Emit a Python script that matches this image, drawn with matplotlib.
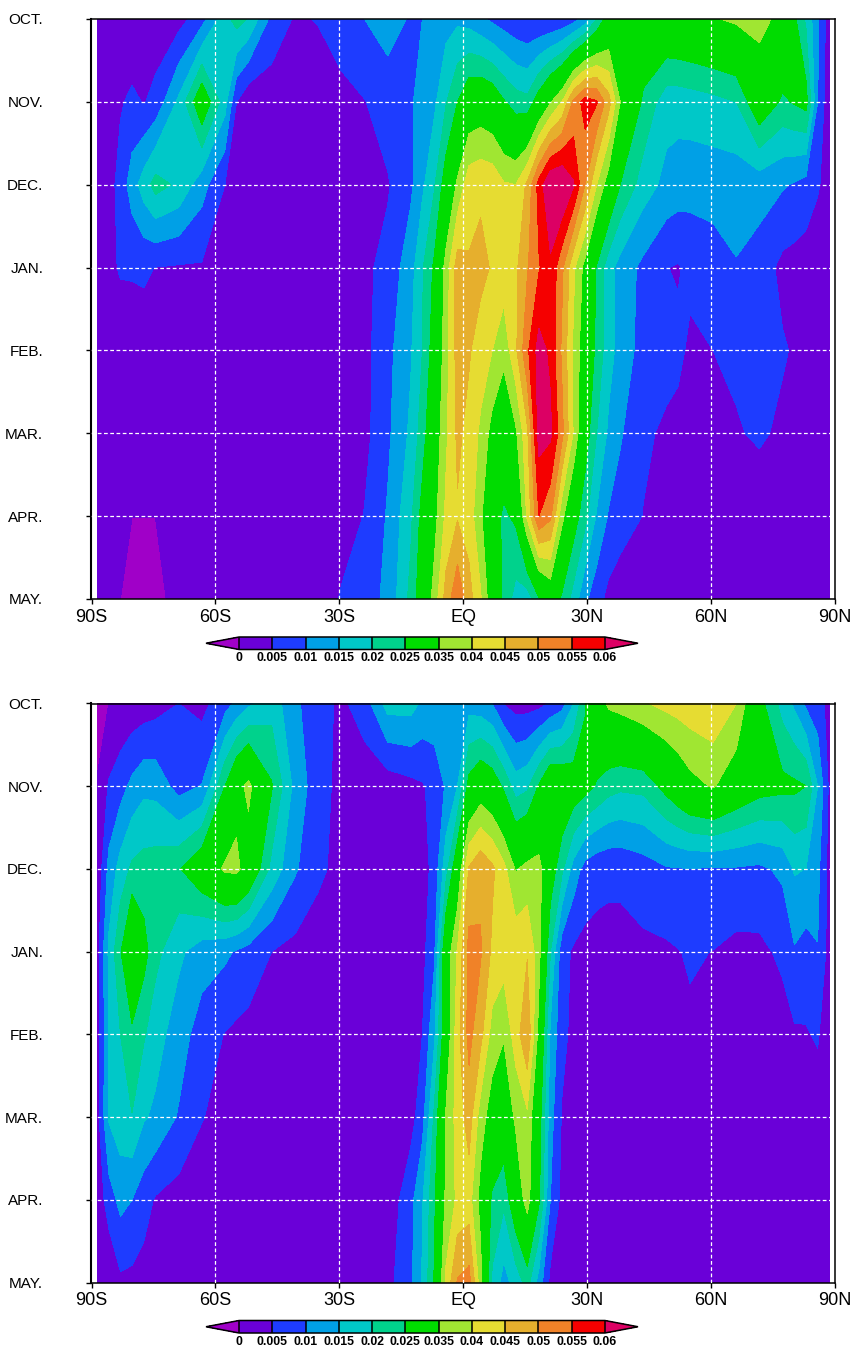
import numpy as np
import matplotlib
matplotlib.use("Agg")
import matplotlib.pyplot as plt

lats = [-88.6, -85.8, -83.0, -80.2, -77.3, -74.5, -68.9, -63.3, -57.7, -54.9, -52.0, -46.4, -40.8, -35.2, -29.5, -23.9, -18.3, -12.7,
        -9.9, -7.0, -4.2, -1.4, 1.4, 4.2, 7.0, 9.8, 12.7, 15.5, 18.3, 21.1, 23.9, 26.7, 29.5, 32.3, 35.2,
        38.0, 43.6, 49.2, 52.0, 54.9, 60.5, 66.1, 71.7, 77.3, 80.2, 83.0, 85.8, 88.6]
months = ["OCT.", "NOV.", "DEC.", "JAN.", "FEB.", "MAR.", "APR.", "MAY."]
lon_ticks = [-90, -60, -30, 0, 30, 60, 90]
lon_labels = ["90S", "60S", "30S", "EQ", "30N", "60N", "90N"]
levels = [0, 0.005, 0.01, 0.015, 0.02, 0.025, 0.035, 0.04, 0.045, 0.05, 0.055, 0.06]
level_labels = ["0", "0.005", "0.01", "0.015", "0.02", "0.025", "0.035", "0.04", "0.045", "0.05", "0.055", "0.06"]
colors = ["#A000C8", "#6A00D8", "#1E3CFF", "#00A0E6", "#00C8C8", "#00D28C", "#00DC00",
          "#A0E632", "#E6DC32", "#E6AF2D", "#F08228", "#F50000", "#DC0064"]

# values in units of 0.001, one list per month
top_oct = [1, 1, 1, 1, 1.5, 2, 3, 8, 18, 22, 19.5, 8.5, 4.5, 5.2, 7.5, 10, 12, 9.5,
           10, 11, 13, 14, 13, 11, 9, 7.5, 6, 5, 4.8, 5, 6, 8, 12, 20, 28,
           30, 30, 32, 32.5, 33, 34.5, 36, 37, 33, 26, 19, 11, 2]
top_nov = [1, 3, 4.5, 6, 4.7, 6.5, 16, 30, 17, 5, 1, 2, 2, 2.5, 3.5, 4.8, 7.5, 9.7,
           11, 14, 19.6, 25, 30, 31, 29.5, 25.5, 22.4, 21.5, 28, 34.5, 40, 51, 57.5, 55.5, 47,
           35, 24, 17, 17, 17.5, 18.5, 20, 30, 24, 25.5, 27, 10, 1]
top_dec = [2, 3, 6.8, 12.5, 17.5, 22, 19, 12, 5, 4, 3.5, 2, 2, 2, 2.5, 3.5, 4.5, 9,
           14, 19.5, 28, 36, 43, 44, 43.5, 40.5, 40, 46, 57, 65, 66, 60.5, 50, 40, 32,
           25, 17.5, 13.5, 12.5, 12, 12, 12, 12, 10.5, 9.5, 8, 5.5, 3]
top_jan = [2, 4, 5.4, 5.4, 5.7, 4.9, 4.5, 4.5, 4, 3.8, 3.5, 3, 2.5, 2.5, 3, 4, 6.5, 13,
           19.5, 26, 37, 47.5, 45.5, 46.5, 44.5, 43, 44, 49.5, 54.5, 59, 51, 41, 33, 24.5, 17,
           13, 8.7, 5.1, 4.6, 6, 7.7, 9.7, 7.8, 3.6, 3, 2.5, 2, 2]
top_feb = [1.5, 2, 2.5, 3, 2.8, 3, 3, 3, 3, 3, 3, 2.5, 2.5, 2.5, 3, 3.5, 8.5, 14.5,
           20, 28, 38, 47, 45.5, 42.5, 40, 36.5, 44, 54, 62, 59, 49, 39, 31, 23.5, 17,
           13, 8, 7, 6, 4.2, 5, 6, 6.5, 5.5, 4.5, 3.5, 2.5, 2]
top_mar = [1.5, 2, 2, 2.5, 2.8, 3, 3, 3, 2.5, 2.5, 2.5, 2.5, 2, 2, 2.5, 3.5, 9, 16,
           22.5, 31, 39, 46, 43.5, 39, 33, 30, 34, 44, 62, 61, 51.5, 39.5, 28, 20, 14,
           10.5, 6, 4, 3.7, 3.5, 3.7, 4.5, 5.8, 4, 3.5, 3, 2.5, 2]
top_apr = [1, 1, 0.5, 0.01, 0.01, 0.01, 1, 1.5, 2, 2, 2, 2, 2, 2, 2.5, 5.2, 10.5, 19,
           27, 33, 41, 44.5, 42.5, 36, 28, 24, 26, 41, 55, 51, 36.5, 28, 21.5, 14.5, 9.5,
           8, 4.8, 2, 1.8, 1.5, 1.5, 1.5, 1.5, 1.5, 1.5, 1.5, 1.5, 1.5]
top_may = [1, 0.5, 0, -0.6, -1, -0.6, 0.7, 1, 1, 1, 1, 1, 1, 1.5, 5.5, 8, 11, 21.5,
           29, 37, 47, 54, 47, 40.5, 31, 23.5, 18, 17, 24.5, 30, 24, 18, 11, 7, 3.5,
           1.5, 1.5, 1.5, 1.5, 1.5, 1.5, 1.5, 1.5, 1.5, 1.5, 1.5, 1.5, 1.5]

bot_oct = [-2, 0, 0.8, 1.5, 2.2, 3, 5, 3.5, 8, 11, 14, 18, 11, 7, 4, 7.5, 17, 17,
           14, 13.5, 13, 13, 13, 12, 10, 4.8, 3, 3, 3.5, 5.5, 8, 15, 24.6, 31, 36,
           37, 39.5, 41.5, 42.2, 43, 44, 40, 27, 18, 14, 9, 7, 3.5]
bot_nov = [0.3, 5.5, 8, 11.3, 13.7, 13.3, 8, 10.2, 25, 32.5, 36.5, 25.5, 13.5, 7, 3.5, 2, 2, 3.5,
           4.5, 6.5, 10.5, 15, 27, 31, 29, 24, 17.5, 19, 25.5, 32, 31, 29, 27, 24.5, 22,
           21, 21.5, 27, 30, 33, 35.5, 31, 27.5, 26.5, 26, 25, 15, 4]
bot_dec = [1, 11.5, 17, 21, 22, 22.5, 24.5, 30, 36, 36.5, 31.5, 18.5, 10.7, 6, 3.5, 2.5, 2, 2.5,
           3, 6.5, 18, 30, 45.5, 49, 46, 41.5, 34.5, 36.5, 37, 28.5, 21, 13, 8, 6.5, 6,
           6, 7.5, 9.5, 9.7, 9.9, 9.5, 9.5, 9, 11, 15.5, 14.9, 11.5, 3]
bot_jan = [3, 16, 24.5, 34, 27, 21.5, 16, 12.5, 11, 9.5, 8, 5, 3.5, 2.5, 2, 2, 2, 2.5,
           3.5, 9, 31, 40.5, 52, 50.5, 44, 42.5, 43.7, 44.5, 37, 20, 7, 4.2, 3.5, 3.5, 3.5,
           3.5, 4, 4.2, 4.8, 5.5, 4.9, 3.5, 3.8, 6, 9.5, 7.9, 9.8, 3]
bot_feb = [2, 15, 20, 23.7, 20.5, 17, 12.5, 7.5, 4.8, 4, 3.5, 2.5, 2, 2, 1.5, 1.5, 1.5, 2,
           5, 14, 30, 43, 51.5, 46.5, 38, 35.5, 42.5, 49.5, 33, 14, 6.5, 3.5, 3, 3, 3,
           3, 3, 3.5, 4, 4.2, 3.5, 3, 3.5, 2.9, 4.3, 4.6, 5.6, 1]
bot_mar = [3, 15.5, 18, 19.8, 15.5, 14, 9.5, 5.2, 3.5, 3, 2.5, 2, 2, 2, 1.5, 1.5, 1.5, 3,
           8, 21, 35.5, 42, 47.5, 37.5, 32, 30, 36, 39, 28, 12, 4.5, 2.5, 2, 2, 2,
           2, 2, 2, 2, 2, 2, 2, 2, 2, 2, 2.5, 2, 1]
bot_apr = [1.5, 7.5, 11.5, 10, 7, 4.5, 3, 2.5, 2, 2, 2, 2, 2, 1.5, 1.5, 1.5, 1.5, 8.5,
           14.5, 24, 36, 41, 42, 33, 24, 21, 30, 37.5, 26, 10, 3.5, 2, 2, 2, 2,
           2, 2, 2, 2, 2, 2, 2, 2, 2, 2, 2, 2, 1]
bot_may = [1, 0.4, 4, 3.7, 3, 3, 2, 2, 2, 2, 2, 2, 2, 1.5, 1.5, 1.5, 3.5, 9,
           15.5, 25.5, 41, 50.5, 52, 37, 19, 13, 17, 22, 13, 3.5, 2, 2, 2, 2, 2,
           2, 2, 2, 2, 2, 2, 2, 2, 2, 2, 2, 2, 1]

W, H = 854, 1346


def px_box(left, top, right, bottom):
    return [left / W, 1 - bottom / H, (right - left) / W, (bottom - top) / H]


def panel(fig, rows, ax_top, ax_bottom, bar_top):
    ax = fig.add_axes(px_box(91.5, ax_top, 835, ax_bottom))
    z = np.array(rows) * 1e-3
    cs = ax.contourf(lats, np.arange(len(months)), z, levels=levels, colors=colors, extend="both", antialiased=False)
    ax.set_xlim(-90, 90)
    ax.set_ylim(len(months) - 1, 0)
    ax.set_xticks(lon_ticks)
    ax.set_xticklabels(lon_labels, family=["Liberation Sans"], fontsize=13)
    ax.set_yticks(np.arange(len(months)))
    ax.set_yticklabels(months, family=["Liberation Sans"], fontsize=11)
    ax.tick_params(axis="x", length=3.5, width=1, pad=3.5)
    ax.tick_params(axis="y", length=3.8, width=1, pad=31)
    ax.set_axisbelow(False)
    ax.grid(True, color="white", lw=0.9, ls=(0, (3, 2)))
    # no grid line on the frame itself
    for gl in (ax.get_xgridlines()[0], ax.get_xgridlines()[-1], ax.get_ygridlines()[0], ax.get_ygridlines()[-1]):
        gl.set_visible(False)
    for side in ax.spines:
        ax.spines[side].set_linewidth(1.1)
    ax.spines["left"].set_linewidth(1.5)

    cax = fig.add_axes(px_box(206, bar_top, 638, bar_top + 12.5))
    cb = fig.colorbar(cs, cax=cax, orientation="horizontal", extend="both", extendfrac=33 / 365,
                      spacing="uniform", drawedges=True, ticks=levels)
    cb.ax.set_xticklabels(level_labels, family=["Liberation Sans"], fontsize=8.8, fontweight="bold")
    cb.ax.tick_params(length=0, pad=2)
    cb.outline.set_linewidth(1.1)
    cb.dividers.set_linewidth(1.1)
    cb.dividers.set_color("black")


fig = plt.figure(figsize=(W / 100, H / 100), dpi=100)
panel(fig, [top_oct, top_nov, top_dec, top_jan, top_feb, top_mar, top_apr, top_may], 19, 599, 637)
panel(fig, [bot_oct, bot_nov, bot_dec, bot_jan, bot_feb, bot_mar, bot_apr, bot_may], 703.5, 1282.5, 1320.5)
fig.savefig("out.png", dpi=100)
